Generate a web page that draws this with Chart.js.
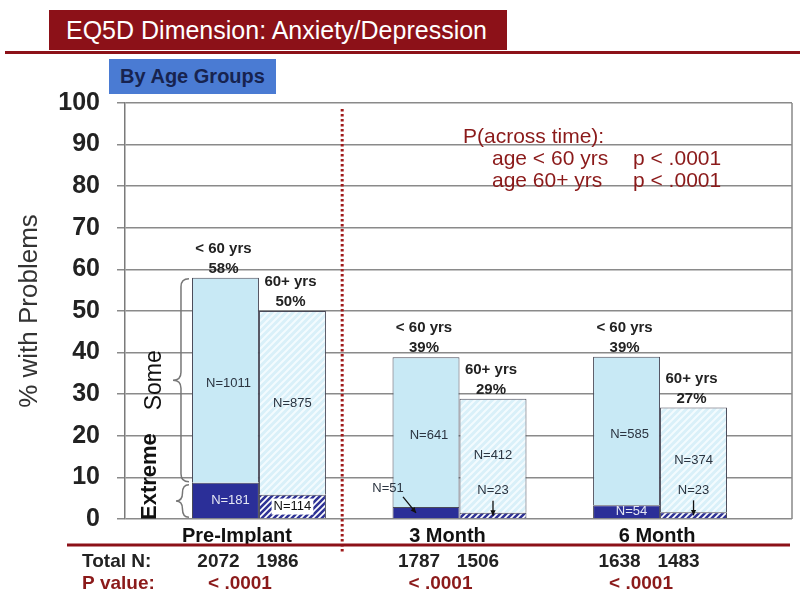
<!DOCTYPE html>
<html lang="en">
<head>
<meta charset="UTF-8">
<title>EQ5D Dimension: Anxiety/Depression</title>
<script src="https://cdn.jsdelivr.net/npm/chart.js"></script>
<style>
  html, body { margin: 0; padding: 0; background: #fff; }
  body { width: 800px; height: 594px; position: relative; overflow: hidden; font-family: "Liberation Sans", Arial, sans-serif; }
  #wrap { position: absolute; left: 0; top: 0; width: 800px; height: 594px; }
  .title-bar { position: absolute; left: 49px; top: 10px; width: 458px; height: 40px; background: #8c1118; color: #fff;
               font-size: 25px; line-height: 40px; padding-left: 17px; box-sizing: border-box; white-space: nowrap; }
  .title-rule { position: absolute; left: 5px; top: 51px; width: 795px; height: 3px; background: #8c1118; }
  .sub-bar { position: absolute; left: 109px; top: 59px; width: 167px; height: 35px; background: #4a7bd3; color: #17234f;
             font-weight: bold; font-size: 20px; line-height: 35px; text-align: center; }
</style>
</head>
<body>
<div id="wrap"><canvas id="eqChart"></canvas></div>
<div class="title-bar">EQ5D Dimension: Anxiety/Depression</div>
<div class="title-rule"></div>
<div class="sub-bar">By Age Groups</div>
<script>
// data (% of patients)
const categories = ['Pre-Implant', '3 Month', '6 Month'];
const extremeYoung = [8.7, 2.9, 3.3];
const someYoung = [49.3, 36.0, 35.7];
const extremeOld = [5.8, 1.5, 1.6];
const someOld = [44.2, 27.4, 25.2];
const pctYoung = ['58%', '39%', '39%'];
const pctOld = ['50%', '29%', '27%'];
const nExtremeYoung = ['N=181', 'N=51', 'N=54'];
const nSomeYoung = ['N=1011', 'N=641', 'N=585'];
const nExtremeOld = ['N=114', 'N=23', 'N=23'];
const nSomeOld = ['N=875', 'N=412', 'N=374'];
const totalYoung = ['2072', '1787', '1638'];
const totalOld = ['1986', '1506', '1483'];
const pValues = ['< .0001', '< .0001', '< .0001'];
const acrossTime = [['age < 60 yrs', 'p < .0001'], ['age 60+ yrs', 'p < .0001']];

// layout bits
const FONT = '"Liberation Sans", Arial, sans-serif';
const DARK_RED = '#8c1118';
const labelNudge = [-0.11, -0.06, -0.015];
const dividerAt = 0.415;
// how the small "Extreme" counts are placed: [young, old] per time point
const extremePlacement = [['inside', 'inside'], ['calloutLeft', 'callout'], ['inside', 'callout']];

Chart.defaults.font.family = FONT;

function stripes(bg, fg, size, lw) {
  const c = document.createElement('canvas');
  c.width = size; c.height = size;
  const g = c.getContext('2d');
  g.fillStyle = bg;
  g.fillRect(0, 0, size, size);
  g.strokeStyle = fg;
  g.lineWidth = lw;
  g.beginPath();
  g.moveTo(0, size); g.lineTo(size, 0);
  g.moveTo(-size / 2, size / 2); g.lineTo(size / 2, -size / 2);
  g.moveTo(size / 2, size * 1.5); g.lineTo(size * 1.5, size / 2);
  g.stroke();
  return g.createPattern(c, 'repeat');
}

const pts = arr => arr.map((v, i) => ({ x: i, y: v }));

function text(ctx, s, x, y, font, color, align) {
  ctx.font = font;
  ctx.fillStyle = color;
  ctx.textAlign = align || 'center';
  ctx.textBaseline = 'middle';
  ctx.fillText(s, x, y);
}

function arrow(ctx, x1, y1, x2, y2) {
  const a = Math.atan2(y2 - y1, x2 - x1);
  ctx.strokeStyle = '#111';
  ctx.fillStyle = '#111';
  ctx.lineWidth = 1.3;
  ctx.beginPath();
  ctx.moveTo(x1, y1);
  ctx.lineTo(x2, y2);
  ctx.stroke();
  ctx.beginPath();
  ctx.moveTo(x2, y2);
  ctx.lineTo(x2 - 6 * Math.cos(a - 0.45), y2 - 6 * Math.sin(a - 0.45));
  ctx.lineTo(x2 - 6 * Math.cos(a + 0.45), y2 - 6 * Math.sin(a + 0.45));
  ctx.closePath();
  ctx.fill();
}

function brace(ctx, x, y1, y2, d) {
  const ym = (y1 + y2) / 2;
  const r = Math.min(8, (y2 - y1) / 4);
  const xm = x - d / 2;
  ctx.beginPath();
  ctx.moveTo(x, y1);
  ctx.quadraticCurveTo(xm, y1, xm, y1 + r);
  ctx.lineTo(xm, ym - r);
  ctx.quadraticCurveTo(xm, ym, x - d, ym);
  ctx.quadraticCurveTo(xm, ym, xm, ym + r);
  ctx.lineTo(xm, y2 - r);
  ctx.quadraticCurveTo(xm, y2, x, y2);
  ctx.stroke();
}

const annotations = {
  id: 'annotations',
  afterDatasetsDraw(chart) {
    const ctx = chart.ctx;
    const area = chart.chartArea;
    const xs = chart.scales.x;
    const exY = chart.getDatasetMeta(0).data;
    const soY = chart.getDatasetMeta(1).data;
    const exO = chart.getDatasetMeta(2).data;
    const soO = chart.getDatasetMeta(3).data;
    ctx.save();

    // right frame line
    ctx.strokeStyle = '#888';
    ctx.lineWidth = 1.5;
    ctx.beginPath();
    ctx.moveTo(area.right, area.top);
    ctx.lineTo(area.right, area.bottom);
    ctx.stroke();

    // dotted divider
    const dx = xs.getPixelForValue(dividerAt);
    ctx.strokeStyle = '#a01c1c';
    ctx.lineWidth = 3;
    ctx.setLineDash([2.5, 2.5]);
    ctx.beginPath();
    ctx.moveTo(dx, area.top + 6);
    ctx.lineTo(dx, area.bottom + 34);
    ctx.stroke();
    ctx.setLineDash([]);

    // across-time note
    text(ctx, 'P(across time):', area.left + 338, area.top + 34, '21px ' + FONT, '#8b1a1a', 'left');
    acrossTime.forEach((row, i) => {
      const y = area.top + 56 + i * 22;
      text(ctx, row[0], area.left + 367, y, '21px ' + FONT, '#8b1a1a', 'left');
      text(ctx, row[1], area.left + 508, y, '21px ' + FONT, '#8b1a1a', 'left');
    });

    categories.forEach((c, i) => {
      const by = soY[i], bo = soO[i];
      // age group + percent above each bar
      text(ctx, '< 60 yrs', by.x - 2, by.y - 29, 'bold 15px ' + FONT, '#222');
      text(ctx, pctYoung[i], by.x - 2, by.y - 9, 'bold 15px ' + FONT, '#222');
      text(ctx, '60+ yrs', bo.x - 2, bo.y - 29, 'bold 15px ' + FONT, '#222');
      text(ctx, pctOld[i], bo.x - 2, bo.y - 9, 'bold 15px ' + FONT, '#222');
      // "Some" counts
      text(ctx, nSomeYoung[i], by.x + 3, (by.y + by.base) / 2 + 3, '13px ' + FONT, '#2b3440');
      text(ctx, nSomeOld[i], bo.x, (bo.y + bo.base) / 2, '13px ' + FONT, '#2b3440');

      // "Extreme" counts
      [[exY[i], nExtremeYoung[i], true], [exO[i], nExtremeOld[i], false]].forEach(([el, s, young], k) => {
        const mode = extremePlacement[i][k];
        if (mode === 'inside') {
          const y = (el.y + el.base) / 2;
          if (young) {
            text(ctx, s, el.x + 5, y, '13px ' + FONT, '#e6e8f4');
          } else {
            ctx.font = '13px ' + FONT;
            const w = ctx.measureText(s).width;
            ctx.fillStyle = '#fff';
            ctx.fillRect(el.x - w / 2 - 2, y - 8, w + 4, 16);
            text(ctx, s, el.x, y, '13px ' + FONT, '#111');
          }
        } else if (mode === 'calloutLeft') {
          text(ctx, s, el.x - 38, el.y - 19, '13px ' + FONT, '#2b3440');
          arrow(ctx, el.x - 23, el.y - 10, el.x - 10, el.y + 6);
        } else {
          text(ctx, s, el.x, el.y - 22, '13px ' + FONT, '#2b3440');
          arrow(ctx, el.x, el.y - 12, el.x, el.y + 3);
        }
      });
    });

    // braces and Some / Extreme captions beside the first bar
    const first = soY[0], firstEx = exY[0];
    const bl = first.x - first.width / 2;
    ctx.strokeStyle = '#777';
    ctx.lineWidth = 1.5;
    brace(ctx, bl - 3, first.y + 1, firstEx.y - 1, 16);
    brace(ctx, bl - 3, firstEx.y + 2, firstEx.base - 1, 13);
    ctx.save();
    ctx.translate(bl - 37, (first.y + firstEx.y) / 2);
    ctx.rotate(-Math.PI / 2);
    text(ctx, 'Some', 0, 0, '23px ' + FONT, '#111');
    ctx.restore();
    ctx.save();
    ctx.translate(bl - 42, area.bottom + 1);
    ctx.rotate(-Math.PI / 2);
    text(ctx, 'Extreme', 0, 0, 'bold 22px ' + FONT, '#111', 'left');
    ctx.restore();

    // bottom rule and table
    ctx.strokeStyle = DARK_RED;
    ctx.lineWidth = 3;
    ctx.beginPath();
    ctx.moveTo(67, area.bottom + 26);
    ctx.lineTo(790, area.bottom + 26);
    ctx.stroke();
    const rowN = area.bottom + 43, rowP = area.bottom + 65;
    text(ctx, 'Total N:', 82, rowN, 'bold 19px ' + FONT, '#222', 'left');
    text(ctx, 'P value:', 82, rowP, 'bold 19px ' + FONT, '#8b1a1a', 'left');
    categories.forEach((c, i) => {
      text(ctx, totalYoung[i], soY[i].x - 7, rowN, 'bold 19px ' + FONT, '#222');
      text(ctx, totalOld[i], soO[i].x - 15, rowN, 'bold 19px ' + FONT, '#222');
      text(ctx, pValues[i], (soY[i].x + soO[i].x) / 2 - 19, rowP, 'bold 19px ' + FONT, '#8b1a1a');
    });
    ctx.restore();
  }
};

const border = '#4a4a58';
new Chart(document.getElementById('eqChart'), {
  type: 'bar',
  data: {
    datasets: [
      { label: 'Extreme < 60 yrs', stack: 'young', data: pts(extremeYoung), backgroundColor: '#2b2f98', borderColor: border, borderWidth: 1 },
      { label: 'Some < 60 yrs', stack: 'young', data: pts(someYoung), backgroundColor: '#c8e9f5', borderColor: border, borderWidth: 1 },
      { label: 'Extreme 60+ yrs', stack: 'old', data: pts(extremeOld), backgroundColor: stripes('#ffffff', '#2f3396', 6, 2.6), borderColor: border, borderWidth: 1 },
      { label: 'Some 60+ yrs', stack: 'old', data: pts(someOld), backgroundColor: stripes('#d9f0f9', '#f3fbfe', 7, 2), borderColor: border, borderWidth: 1 }
    ]
  },
  options: {
    responsive: true,
    maintainAspectRatio: false,
    animation: false,
    layout: { padding: { top: 103, right: 8, bottom: 45, left: 0 } },
    datasets: { bar: { categoryPercentage: 0.668, barPercentage: 1, borderSkipped: 'start' } },
    plugins: { legend: { display: false }, tooltip: { enabled: false } },
    scales: {
      x: {
        type: 'linear',
        min: -0.668,
        max: 2.658,
        offset: false,
        bounds: 'data',
        grid: { display: false, drawTicks: false, offset: false },
        border: { display: false },
        afterBuildTicks: s => { s.ticks = categories.map((c, i) => ({ value: i + labelNudge[i] })); },
        afterFit: s => { s.height = 30; },
        ticks: {
          callback: (v, i) => categories[i],
          font: { size: 20, weight: 'bold' },
          color: '#111',
          padding: 5,
          maxRotation: 0,
          autoSkip: false
        }
      },
      y: {
        stacked: true,
        min: 0,
        max: 100,
        afterFit: s => { s.width = 125; },
        ticks: { stepSize: 10, font: { size: 25, weight: 'bold' }, color: '#222', padding: 17 },
        grid: { color: '#8a8a8a', lineWidth: 1.5, tickLength: 8 },
        border: { color: '#7a7a7a', width: 1.5 },
        title: { display: true, text: '% with Problems', font: { size: 26 }, color: '#333', padding: { top: 14, bottom: 0 } }
      }
    }
  },
  plugins: [annotations]
});
</script>
</body>
</html>
